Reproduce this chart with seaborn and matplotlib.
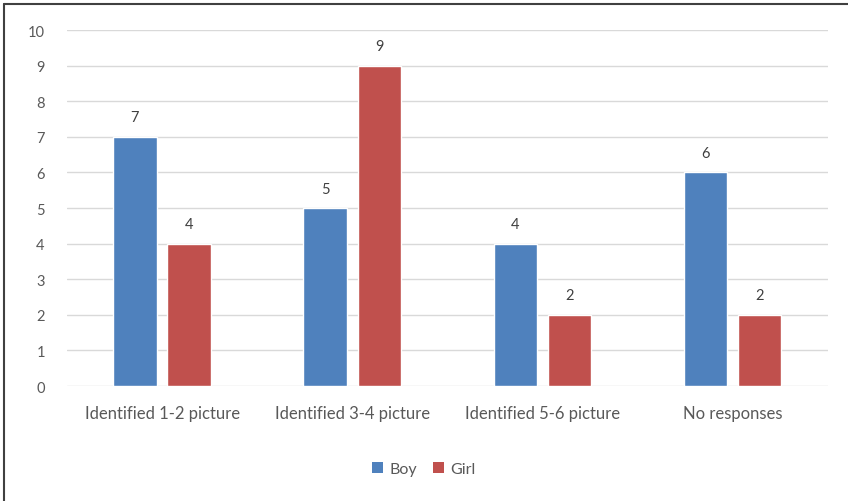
import matplotlib
matplotlib.use("Agg")
import matplotlib.pyplot as plt
import seaborn as sns
import pandas as pd
from matplotlib.lines import Line2D
from matplotlib.patches import Patch

categories = ["Identified 1-2 picture", "Identified 3-4 picture",
              "Identified 5-6 picture", "No responses"]
boy = [7, 5, 4, 6]
girl = [4, 9, 2, 2]
series = ["Boy", "Girl"]
colors = ["#4F81BD", "#C0504D"]
yticks = list(range(0, 11))

df = pd.DataFrame({
    "category": categories * 2,
    "value": boy + girl,
    "series": ["Boy"] * len(boy) + ["Girl"] * len(girl),
})

sns.set_theme(style="white")
plt.rcParams["font.family"] = ["Lato", "DejaVu Sans"]

fig = plt.figure(figsize=(8.48, 5.02), dpi=100)
ax = fig.add_axes([0.079, 0.229, 0.897, 0.709])

sns.barplot(data=df, x="category", y="value", hue="series", order=categories,
            hue_order=series, palette=colors, width=0.57, gap=0.2,
            saturation=1, ax=ax, legend=False)

ax.set_ylim(0, 10)
ax.set_xlim(-0.5, len(categories) - 0.5)
ax.set_yticks(yticks)
ax.set_yticklabels([str(t) for t in yticks])
ax.yaxis.grid(True, color="#D9D9D9", linewidth=1.0)
ax.set_axisbelow(True)
for s in ax.spines.values():
    s.set_visible(False)
ax.tick_params(axis="both", length=0, colors="#595959")
ax.tick_params(axis="y", pad=16, labelsize=10.5)
ax.tick_params(axis="x", pad=14, labelsize=12)
ax.set_xlabel("")
ax.set_ylabel("")

for cont in ax.containers:
    ax.bar_label(cont, labels=[f"{v:g}" for v in cont.datavalues],
                 padding=9, color="#404040", fontsize=10.5)

handles = [Patch(facecolor=c, edgecolor="none") for c in colors]
fig.legend(handles, series, loc="center", bbox_to_anchor=(0.5, 0.064),
           ncol=2, frameon=False, handlelength=0.7, handleheight=0.7,
           handletextpad=0.4, columnspacing=1.0,
           prop={"size": 11.5}, labelcolor="#595959")

# outer border (top and left)
fig.add_artist(Line2D([0.005, 0.005], [0, 0.99], transform=fig.transFigure,
                      color="#404040", linewidth=1.5))
fig.add_artist(Line2D([0.005, 1.0], [0.99, 0.99], transform=fig.transFigure,
                      color="#404040", linewidth=1.5))

fig.savefig("out.png", dpi=100)
